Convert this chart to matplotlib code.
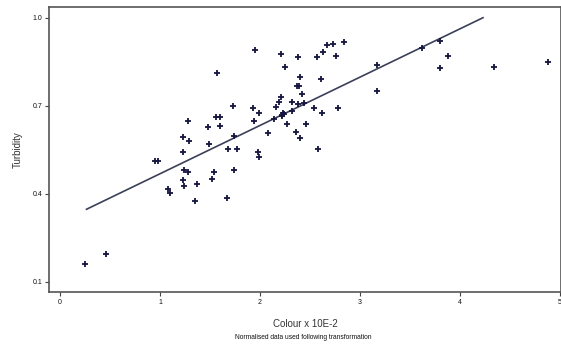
import matplotlib
matplotlib.use("Agg")
import matplotlib.pyplot as plt

# colour (x 10E-2) against turbidity, normalised
colour = [0.25, 0.457, 0.95, 0.983, 1.083, 1.10, 1.233, 1.227, 1.283, 1.293,
          1.24, 1.277, 1.233, 1.243, 1.367, 1.35, 1.483, 1.493, 1.517, 1.54,
          1.573, 1.56, 1.60, 1.60, 1.683, 1.667, 1.733, 1.74, 1.767, 1.743,
          1.953, 1.933, 1.937, 1.99, 1.983, 1.993, 2.083, 2.143, 2.16, 2.207,
          2.193, 2.21, 2.25, 2.233, 2.217, 2.267, 2.317, 2.323, 2.367, 2.39,
          2.383, 2.40, 2.423, 2.383, 2.44, 2.36, 2.40, 2.457, 2.54, 2.567,
          2.627, 2.607, 2.617, 2.583, 2.673, 2.733, 2.76, 2.783, 2.843, 3.167,
          3.167, 3.623, 3.80, 3.80, 3.883, 4.343, 4.877, 2.24, 2.22]
turbidity = [0.159, 0.193, 0.51, 0.511, 0.416, 0.403, 0.593, 0.543, 0.648, 0.580,
             0.48, 0.475, 0.447, 0.426, 0.433, 0.376, 0.627, 0.569, 0.45, 0.475,
             0.811, 0.66, 0.66, 0.632, 0.551, 0.386, 0.698, 0.597, 0.551, 0.481,
             0.89, 0.693, 0.649, 0.674, 0.543, 0.524, 0.608, 0.654, 0.697, 0.731,
             0.714, 0.876, 0.833, 0.676, 0.668, 0.638, 0.714, 0.683, 0.767, 0.767,
             0.867, 0.798, 0.74, 0.705, 0.708, 0.609, 0.589, 0.637, 0.691, 0.867,
             0.882, 0.792, 0.676, 0.551, 0.907, 0.909, 0.87, 0.691, 0.916, 0.839,
             0.75, 0.898, 0.922, 0.827, 0.87, 0.833, 0.85, 0.672, 0.664]

# fitted line end points
fit_x = [0.265, 4.23]
fit_y = [0.347, 1.0]

xticks = [0, 1, 2, 3, 4, 5]
yticks = [0.1, 0.4, 0.7, 1.0]

plt.rcParams['font.family'] = ['Liberation Sans', 'DejaVu Sans']

fig = plt.figure(figsize=(5.61, 3.49), dpi=100)
ax = fig.add_axes([0.0879, 0.1625, 0.9121, 0.8183])

ax.plot(fit_x, fit_y, color='#3b4058', lw=1.2, zorder=2)
ax.plot(colour, turbidity, ls='none', marker='+', ms=5, mew=1.3,
        color='#15153f', zorder=3)

ax.set_xlim(-0.107, 5.01)
ax.set_ylim(0.064, 1.0375)
ax.set_xticks(xticks)
ax.set_xticklabels([str(t) for t in xticks])
ax.set_yticks(yticks)
ax.set_yticklabels(['%.1f' % t for t in yticks])
ax.tick_params(labelsize=5, length=3, width=0.8, color='#444444',
               labelcolor='#111111', pad=2)

for side in ['left', 'bottom', 'top', 'right']:
    ax.spines[side].set_color('#555555')
    ax.spines[side].set_linewidth(1.2)

ax.set_ylabel('Turbidity', fontsize=7, color='#333333', labelpad=7)
ax.set_xlabel('Colour x 10E-2', fontsize=7, color='#333333', labelpad=9)
fig.text(0.54, 0.032, 'Normalised data used following transformation',
         fontsize=4.8, ha='center', va='center', color='#111111')

fig.savefig('out.png', dpi=100)
